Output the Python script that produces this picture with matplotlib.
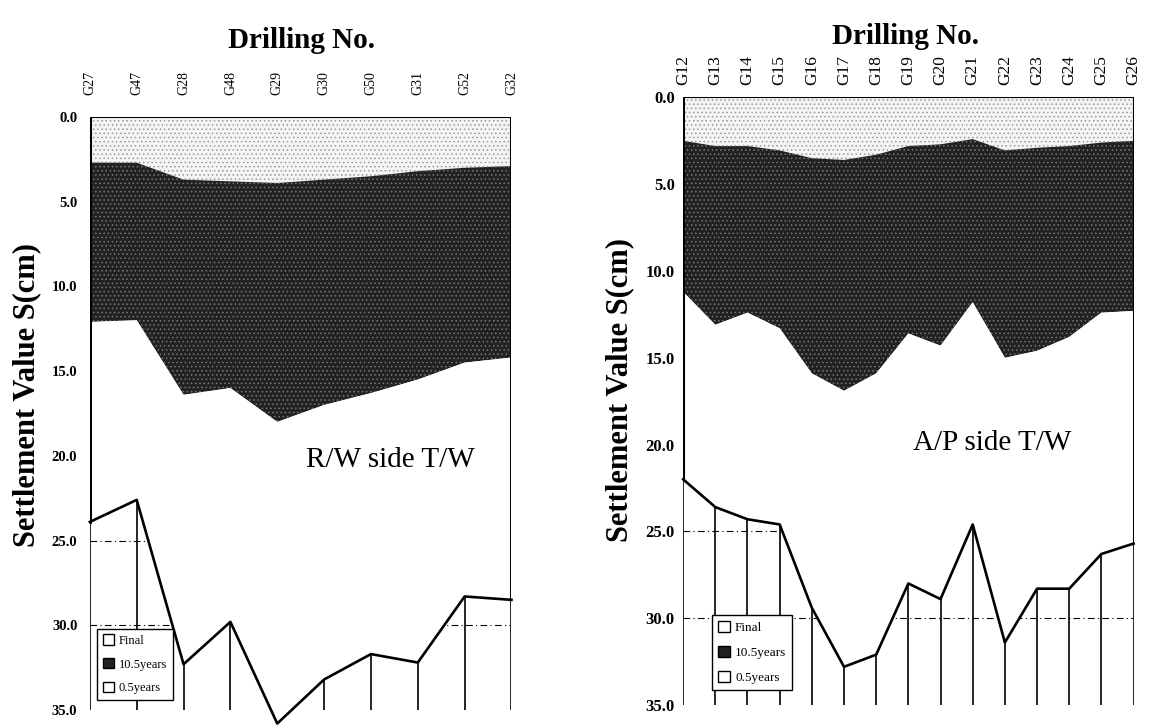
import matplotlib
matplotlib.use("Agg")
import matplotlib.pyplot as plt
from matplotlib.patches import Patch

plt.rcParams['font.family'] = ['Liberation Serif', 'DejaVu Serif']
plt.rcParams['hatch.linewidth'] = 0.6

# R/W side T/W
rw_holes = ['G27', 'G47', 'G28', 'G48', 'G29', 'G30', 'G50', 'G31', 'G52', 'G32']
rw_05yr = [2.7, 2.7, 3.7, 3.8, 3.9, 3.7, 3.5, 3.2, 3.0, 2.9]
rw_105yr = [12.1, 12.0, 16.4, 16.0, 18.0, 17.0, 16.3, 15.5, 14.5, 14.2]
rw_final = [23.9, 22.6, 32.3, 29.8, 35.8, 33.2, 31.7, 32.2, 28.3, 28.5]

# A/P side T/W
ap_holes = ['G12', 'G13', 'G14', 'G15', 'G16', 'G17', 'G18', 'G19', 'G20',
            'G21', 'G22', 'G23', 'G24', 'G25', 'G26']
ap_05yr = [2.5, 2.8, 2.8, 3.05, 3.5, 3.6, 3.3, 2.8, 2.7, 2.4, 3.05, 2.9, 2.8, 2.6, 2.5]
ap_105yr = [11.2, 13.1, 12.4, 13.3, 15.9, 16.9, 15.9, 13.6, 14.3, 11.8, 15.0, 14.6, 13.8, 12.4, 12.3]
ap_final = [22.0, 23.6, 24.3, 24.6, 29.4, 32.8, 32.1, 28.0, 28.9, 24.6, 31.4, 28.3, 28.3, 26.3, 25.7]

yticks = [0, 5, 10, 15, 20, 25, 30, 35]


def draw_panel(ax, holes, yr05, yr105, final, label, label_xy, leg_anchor,
               xt_size, xt_pad, yt_size, yt_pad, leg_size):
    x = list(range(len(holes)))
    ax.set_xlim(0, len(holes) - 1)
    ax.set_ylim(35, 0)
    for g in (25, 30):
        ax.axhline(g, color='k', lw=0.8, ls=(0, (6, 3, 1, 3)), zorder=0)
    ax.fill_between(x, 0, yr05, facecolor='#f4f4f4', edgecolor='#9a9a9a',
                    hatch='....', lw=0, zorder=1)
    ax.fill_between(x, yr05, yr105, facecolor='#222222', edgecolor='#777777',
                    hatch='....', lw=0, zorder=1)
    ax.fill_between(x, yr105, final, facecolor='white', lw=0, zorder=1)
    ax.plot(x, final, color='k', lw=1.9, zorder=3, clip_on=False)
    ax.vlines(x, final, 35, color='k', lw=1.2, zorder=2)
    ax.plot([0, len(holes) - 1], [0, 0], color='k', lw=1.5, zorder=3)
    ax.plot([0, 0], [0, final[0]], color='k', lw=2.2, zorder=3)
    ax.plot([x[-1], x[-1]], [0, final[-1]], color='k', lw=2.2, zorder=3)
    for s in ax.spines.values():
        s.set_visible(False)
    ax.set_yticks(yticks)
    ax.set_yticklabels(['%.1f' % v for v in yticks], fontsize=yt_size, fontweight='bold')
    ax.set_xticks(x)
    ax.set_xticklabels(holes, rotation=90, fontsize=xt_size)
    ax.xaxis.tick_top()
    ax.tick_params(axis='x', length=0, pad=xt_pad)
    ax.tick_params(axis='y', length=0, pad=yt_pad)
    ax.text(label_xy[0], label_xy[1], label, transform=ax.transAxes,
            fontsize=21, ha='center', va='center')
    handles = [Patch(facecolor='white', edgecolor='k', label='Final'),
               Patch(facecolor='#222222', edgecolor='k', label='10.5years'),
               Patch(facecolor='white', edgecolor='k', label='0.5years')]
    leg = ax.legend(handles=handles, loc='lower left', bbox_to_anchor=leg_anchor,
                    fontsize=leg_size, frameon=True, fancybox=False, framealpha=1,
                    edgecolor='k', handlelength=0.9, handleheight=0.9,
                    handletextpad=0.4, borderpad=0.45, labelspacing=0.9,
                    borderaxespad=0)
    leg.get_frame().set_linewidth(1.0)
    leg.set_zorder(5)


fig = plt.figure(figsize=(11.52, 7.25), dpi=100)
ax1 = fig.add_axes([0.078, 0.0207, 0.366, 0.818])
ax2 = fig.add_axes([0.593, 0.0276, 0.391, 0.838])

draw_panel(ax1, rw_holes, rw_05yr, rw_105yr, rw_final, 'R/W side T/W',
           (0.713, 0.422), (0.017, 0.017), 10, 16, 10.5, 9, 9)
draw_panel(ax2, ap_holes, ap_05yr, ap_105yr, ap_final, 'A/P side T/W',
           (0.687, 0.431), (0.064, 0.025), 12.5, 9, 12, 6, 9.5)

fig.text(0.262, 0.934, 'Drilling No.', fontsize=21, fontweight='bold',
         ha='center', va='baseline')
fig.text(0.786, 0.94, 'Drilling No.', fontsize=21, fontweight='bold',
         ha='center', va='baseline')
fig.text(0.023, 0.455, 'Settlement Value S(cm)', fontsize=22, fontweight='bold',
         rotation=90, ha='center', va='center')
fig.text(0.538, 0.462, 'Settlement Value S(cm)', fontsize=22, fontweight='bold',
         rotation=90, ha='center', va='center')

fig.savefig('out.png', dpi=100)
